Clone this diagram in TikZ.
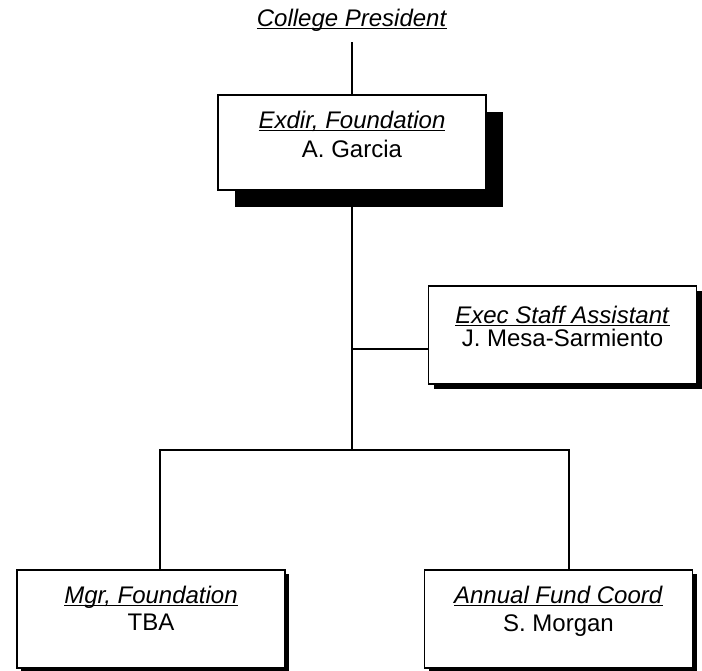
\documentclass[tikz,border=0pt]{standalone}
\usepackage{fontspec}
\setmainfont{Liberation Sans}
\usetikzlibrary{shadows}
\newcommand*{\jobtitle}[1]{\underline{\smash{\textit{#1}}}}
\tikzstyle{base}=[inner sep=0pt, outer sep=0pt]
\tikzstyle{post}=[draw=black, fill=white, line width=0.9pt, minimum width=134pt, minimum height=49pt, inner sep=0pt]
\tikzstyle{txt}=[anchor=base, inner sep=0pt, font=\fontsize{12}{14}\selectfont]
\tikzstyle{link}=[black, line width=0.9pt]

\begin{document}
\begin{tikzpicture}[base, x=0.5pt, y=-0.5pt]
    \path [use as bounding box] (0,0) rectangle (702,670);
    % boxes
    \node [txt] (pres) at (352,26) {\jobtitle{College President}};
    \node [post, minimum height=47.5pt, drop shadow={opacity=1, fill=black, shadow xshift=8.5pt, shadow yshift=-8.5pt}] (exdir) at (352,142.5) {};
    \node [post, drop shadow={opacity=1, fill=black, shadow xshift=2.5pt, shadow yshift=-2.5pt}] (staff) at (562.5,335) {};
    \node [post, drop shadow={opacity=1, fill=black, shadow xshift=2pt, shadow yshift=-2pt}] (mgr) at (151,619) {};
    \node [post, drop shadow={opacity=1, fill=black, shadow xshift=2pt, shadow yshift=-2pt}] (fund) at (558.5,619) {};
    % texts
    \node [txt] (exdirT) at ([yshift=-16.5pt]exdir.north) {\jobtitle{Exdir, Foundation}};
    \node [txt] (exdirN) at ([yshift=-31pt]exdir.north) {A. Garcia};
    \node [txt] (staffT) at ([yshift=-18.5pt]staff.north) {\jobtitle{Exec Staff Assistant}};
    \node [txt] (staffN) at ([yshift=-30pt]staff.north) {J. Mesa-Sarmiento};
    \node [txt] (mgrT) at ([yshift=-16.5pt]mgr.north) {\jobtitle{Mgr, Foundation}};
    \node [txt] (mgrN) at ([yshift=-30pt]mgr.north) {TBA};
    \node [txt] (fundT) at ([yshift=-16.5pt]fund.north) {\jobtitle{Annual Fund Coord}};
    \node [txt] (fundN) at ([yshift=-30.5pt]fund.north) {S. Morgan};
    % links
    \coordinate (bar) at (352,450);
    \coordinate (tap) at ([yshift=-7pt]staff.west);
    \draw [link] ([yshift=-8pt]pres.base) -- (exdir.north);
    \draw [link] (exdir.south) -- (bar);
    \draw [link] (tap) -- (tap -| bar);
    \draw [link] ([xshift=4.5pt]mgr.north) |- (bar) -| ([xshift=5.25pt]fund.north);
\end{tikzpicture}
\end{document}
